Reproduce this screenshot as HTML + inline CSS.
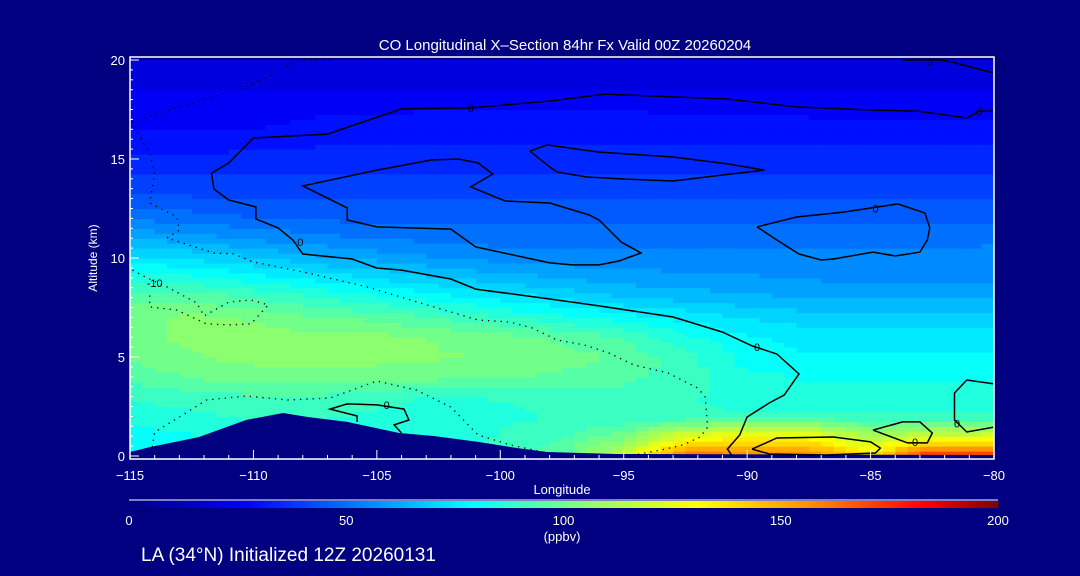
<!DOCTYPE html>
<html><head><meta charset="utf-8"><style>
html,body{margin:0;padding:0;background:#000080;}
svg{display:block;font-family:"Liberation Sans",sans-serif;}
text{fill:#fff;}
</style></head><body>
<svg id="chart" width="1080" height="576" viewBox="0 0 1080 576" xmlns="http://www.w3.org/2000/svg">
<rect x="0" y="0" width="1080" height="576" fill="#000080"/>
<text x="565" y="50" font-size="15" text-anchor="middle">CO Longitudinal X–Section 84hr  Fx Valid 00Z 20260204</text>
<g id="field"></g>
<g id="terrain"></g>
<g id="contours"></g>
<g id="axes"></g>
<text x="97" y="258" font-size="12" text-anchor="middle" transform="rotate(-90 97 258)">Altitude (km)</text>
<text x="562" y="494" font-size="13" text-anchor="middle">Longitude</text>
<g id="colorbar"></g>
<text x="562" y="541" font-size="13" text-anchor="middle">(ppbv)</text>
<text x="141" y="561" font-size="19">LA (34°N) Initialized 12Z 20260131</text>
</svg>
<script>
const lonLevels = [-115,-112.5,-110,-107.5,-105,-102.5,-100,-97.5,-95,-92.5,-90,-87.5,-85,-82.5,-80];
const altLevels = [0,1,2,3,4,5,6,7,8,9,10,11,12,13,14,15,16,17,18,19,20];
const coValues = [
[80,84,88,90,88,86,90,96,120,165,160,160,140,180,175],
[80,82,86,88,86,84,88,92,100,125,130,130,110,120,122],
[84,86,88,88,86,84,86,88,88,88,88,88,88,88,88],
[88,90,92,92,90,86,88,90,90,88,86,84,84,84,84],
[94,98,100,100,100,99,98,96,94,90,84,82,82,82,82],
[98,102,104,104,104,103,102,100,96,90,80,78,78,78,78],
[100,104,104,104,104,102,100,96,92,84,78,76,75,75,75],
[100,104,102,98,96,92,88,84,80,76,72,70,70,70,70],
[96,96,92,88,84,80,76,72,68,66,64,62,62,62,62],
[86,84,80,76,72,68,65,62,60,58,58,57,56,55,56],
[74,72,68,64,61,58,56,55,55,55,55,55,55,55,57],
[62,60,57,54,52,51,50,50,50,50,50,50,50,50,50],
[52,50,48,47,46,46,46,46,46,46,46,46,46,46,46],
[44,43,42,42,42,42,42,42,42,42,42,42,42,42,42],
[39,39,38,38,38,38,38,38,38,38,38,38,38,38,38],
[34,34,35,35,35,35,35,35,35,35,35,35,35,35,35],
[30,29,29,31,32,32,32,32,32,32,32,32,31,31,31],
[26,26,26,28,29,30,30,30,30,29,28,28,27,27,27],
[24,24,24,24,24,24,24,24,24,24,24,24,24,24,24],
[20,20,20,20,20,20,20,20,20,20,20,20,20,20,20],
[18,18,18,18,18,18,18,18,18,18,18,18,18,18,18]];
const terrainLon = [-115,-114.2,-112.2,-110.3,-108.8,-107.8,-106.2,-104.1,-102.7,-100.9,-99.3,-98.1,-95.3,-80];
const terrainAlt = [0.2,0.45,0.96,1.82,2.17,1.97,1.72,1.16,1.01,0.71,0.40,0.20,0.10,0.05];
const solidContours = [
 [[-80,17.42],[-80.6,17.42],[-81.1,17.07],[-83.1,17.42],[-84.9,17.47],[-88,17.63],[-90.8,18.03],[-95.8,18.28],[-98,17.93],[-101.2,17.58],[-104,17.53],[-107,16.26],[-110,16.06],[-111,14.8],[-111.7,14.29],[-111.6,13.48],[-111,12.93],[-109.9,12.58],[-109.9,11.97],[-109,11.52],[-108.4,10.91],[-108,10.2],[-106,9.95],[-105,9.49],[-104,9.39],[-102,8.94],[-101,8.43],[-98,7.93],[-96,7.58],[-93,7.02],[-91,6.26],[-89.8,5.56],[-88.8,5.15],[-87.9,4.14],[-88.5,3.08],[-89.1,2.68],[-90,1.97],[-90.3,1.06],[-90.8,0.35],[-90.6,0]],
 [[-98,12.78],[-99.8,12.88],[-101.2,13.59],[-100.3,14.24],[-100.9,14.8],[-101.7,15],[-102.8,14.95],[-105,14.44],[-108,13.64],[-106.2,12.53],[-106.2,11.92],[-105,11.57],[-102,11.46],[-101,10.56],[-99.1,10.05],[-98,9.75],[-97.1,9.65],[-96,9.65],[-95.2,9.85],[-94.3,10.25],[-95.1,10.81],[-96,11.92],[-96.4,12.17],[-98,12.78]],
 [[-98.8,15.4],[-98.1,15.71],[-96,15.35],[-93,15.1],[-90.8,14.75],[-89.3,14.44],[-91,14.19],[-93,13.89],[-95,13.99],[-96.5,14.09],[-97.7,14.34],[-98,14.6],[-98.8,15.4]],
 [[-89.6,11.57],[-88,12.07],[-86.1,12.32],[-83.9,12.73],[-82.8,12.27],[-82.6,11.52],[-82.7,10.91],[-83,10.3],[-84,10.1],[-84.9,10.3],[-86.5,9.95],[-87,9.9],[-87.9,10.2],[-88.8,10.91],[-89.6,11.57]],
 [[-89.8,0.35],[-88.8,0.91],[-86.5,0.96],[-85,0.71],[-84.6,0.4],[-84.8,0.15],[-86.8,0.05],[-89.1,0.1],[-89.8,0.35]],
 [[-84.9,1.31],[-83.7,1.72],[-83,1.72],[-82.5,1.16],[-82.7,0.66],[-83.5,0.66],[-84.9,1.31]],
 [[-80,3.64],[-81.1,3.84],[-81.6,3.18],[-81.6,1.82],[-81.1,1.21],[-80,1.46]],
 [[-105.8,1.72],[-105.8,2.02],[-106.9,2.37],[-106.2,2.63],[-105,2.58],[-103.9,2.37],[-103.7,1.82],[-104.3,1.57],[-104,1.16]],
 [[-83.7,20],[-82.2,20],[-81.7,19.9],[-80,19.34]]];
const dottedContours = [
 [[-106.9,20],[-108.1,20],[-110.3,18.64],[-113,17.63],[-114.9,16.87],[-114.6,16.11],[-114.2,15.3],[-114,14.29],[-114.2,12.78],[-113.1,12.07],[-113,11.41],[-113.5,11.01],[-111.6,10.25],[-110.8,10.2],[-110,9.8],[-107.8,9.24],[-105.4,8.54],[-102.7,7.53],[-100.9,6.87],[-99.6,6.77],[-98.7,6.46],[-97.7,5.86],[-96.6,5.61],[-95.6,5.2],[-94.6,4.6],[-93.2,4.19],[-92,3.43],[-91.7,2.98],[-91.6,1.46],[-91.9,0.96],[-92.6,0.56],[-93.5,0.3],[-94.6,0.05]],
 [[-114.9,9.39],[-114.3,8.99],[-113.5,8.54],[-112.3,7.73],[-112,7.07],[-111,7.78],[-110.1,7.88],[-109.4,7.63],[-110.1,6.67],[-111,6.62],[-111.9,6.67],[-113.1,7.37],[-114.2,7.53],[-114.2,8.23]],
 [[-114.1,0.45],[-114,1.21],[-113,1.97],[-111.9,2.83],[-110.3,3.03],[-108.6,2.83],[-106.9,2.93],[-105,3.79],[-103.4,3.33],[-102,2.47],[-100.9,1.06],[-99.6,0.56],[-98.1,0.15]]];
const contourLabelText = ["0","0","0","0","0","0","0","0","0","-10"];
const contourLabelLon = [-101.2,-108.1,-89.6,-84.8,-80.6,-82.6,-83.2,-81.5,-104.6,-114];
const contourLabelAlt = [17.58,10.8,5.5,12.5,17.42,19.9,0.7,1.65,2.58,8.75];
const xTicks = [-115,-110,-105,-100,-95,-90,-85,-80];
const yTicks = [0,5,10,15,20];
const cbTicks = [0,50,100,150,200];

const PL=130, PR=994, PT=57, PB=459;
const X = lon => PL + (lon + 115) / 35 * (PR - PL);
const Y = alt => 456 - alt * 19.8;
const NS = "http://www.w3.org/2000/svg";
function mk(tag, parent){ const e=document.createElementNS(NS,tag); parent.appendChild(e); return e; }

const cmStops=[[0,0,0,128],[27,0,0,255],[53,0,128,255],[79,0,255,255],[105,140,255,110],[131,255,255,0],[157,255,140,0],[183,255,0,0],[200,128,0,0]];
function cmap(v){
  v=Math.max(0,Math.min(200,v));
  for(let i=0;i<cmStops.length-1;i++){const a=cmStops[i],b=cmStops[i+1];
    if(v<=b[0]){const t=(v-a[0])/(b[0]-a[0]);
      return `rgb(${Math.round(a[1]+t*(b[1]-a[1]))},${Math.round(a[2]+t*(b[2]-a[2]))},${Math.round(a[3]+t*(b[3]-a[3]))})`;}}
  return "rgb(128,0,0)";
}
function sample(lon,alt){
  let i=0; while(i<lonLevels.length-2 && lon>lonLevels[i+1]) i++;
  let j=0; while(j<altLevels.length-2 && alt>altLevels[j+1]) j++;
  const tx=Math.max(0,Math.min(1,(lon-lonLevels[i])/(lonLevels[i+1]-lonLevels[i])));
  const ty=Math.max(0,Math.min(1,(alt-altLevels[j])/(altLevels[j+1]-altLevels[j])));
  const a=coValues[j][i],b=coValues[j][i+1],c=coValues[j+1][i],d=coValues[j+1][i+1];
  return (a*(1-tx)+b*tx)*(1-ty)+(c*(1-tx)+d*tx)*ty;
}
const field=document.getElementById('field');
const dLon=0.5,dAlt=0.25;
for(let lon=-115;lon<-80-1e-9;lon+=dLon){
  for(let alt=-0.25;alt<20-1e-9;alt+=dAlt){
    const v=Math.round(sample(lon+dLon/2,Math.max(0,alt+dAlt/2))/5)*5;
    const r=mk('rect',field);
    
    
    const x0=X(lon),x1=X(lon+dLon),y0=Math.max(PT,Y(alt+dAlt)),y1=Math.min(PB,Y(alt));
    r.setAttribute('x',x0.toFixed(2));r.setAttribute('y',y0.toFixed(2));
    r.setAttribute('width',(x1-x0+0.6).toFixed(2));r.setAttribute('height',(y1-y0+0.6).toFixed(2));
    r.setAttribute('fill',cmap(v));
  }
}
const ter=mk('polygon',document.getElementById('terrain'));


let tp=terrainLon.map((l,k)=>X(l).toFixed(1)+','+Y(terrainAlt[k]).toFixed(1));
tp.push(X(-80)+','+PB, X(-115)+','+PB);
ter.setAttribute('points',tp.join(' '));
ter.setAttribute('fill','#000080');
const cg=document.getElementById('contours');
solidContours.forEach(c=>{const p=mk('polyline',cg);
  
  
  p.setAttribute('points',c.map(q=>X(q[0]).toFixed(1)+','+Y(q[1]).toFixed(1)).join(' '));
  p.setAttribute('fill','none');p.setAttribute('stroke','#000');p.setAttribute('stroke-width','1.5');});
dottedContours.forEach(c=>{const p=mk('polyline',cg);
  
  
  p.setAttribute('points',c.map(q=>X(q[0]).toFixed(1)+','+Y(q[1]).toFixed(1)).join(' '));
  p.setAttribute('fill','none');p.setAttribute('stroke','#000');p.setAttribute('stroke-width','1.3');p.setAttribute('stroke-dasharray','1.3 5');});
contourLabelText.forEach((t,k)=>{const e=mk('text',cg);
  
  
  e.setAttribute('x',X(contourLabelLon[k]).toFixed(1));e.setAttribute('y',(Y(contourLabelAlt[k])+4).toFixed(1));
  e.setAttribute('font-size','11');e.setAttribute('text-anchor','middle');e.setAttribute('style','fill:#000');
  e.textContent=t;});
const ax=document.getElementById('axes');
const frame=mk('rect',ax);


frame.setAttribute('x',PL);frame.setAttribute('y',PT);frame.setAttribute('width',PR-PL);frame.setAttribute('height',PB-PT);
frame.setAttribute('fill','none');frame.setAttribute('stroke','#fff');frame.setAttribute('stroke-width','1.5');
for(let lon=-115;lon<=-80;lon++){const major=(lon%5===0);const l=mk('line',ax);
  
  
  l.setAttribute('x1',X(lon));l.setAttribute('x2',X(lon));l.setAttribute('y1',PB);l.setAttribute('y2',PB-(major?9:4));
  l.setAttribute('stroke','#fff');}
for(let a=0;a<=20;a+=0.5){const major=(a%5===0);const l=mk('line',ax);
  
  
  l.setAttribute('x1',PL);l.setAttribute('x2',PL+(major?9:3));l.setAttribute('y1',Y(a));l.setAttribute('y2',Y(a));
  l.setAttribute('stroke','#fff');}
xTicks.forEach(v=>{const t=mk('text',ax);
  
  
  t.setAttribute('x',X(v));t.setAttribute('y',480);t.setAttribute('font-size','13');t.setAttribute('text-anchor','middle');
  t.textContent=v<0?'−'+Math.abs(v):v;});
yTicks.forEach(v=>{const t=mk('text',ax);
  
  
  t.setAttribute('x',125);t.setAttribute('y',Y(v)+5);t.setAttribute('font-size','13');t.setAttribute('text-anchor','end');
  t.textContent=v;});
const cb=document.getElementById('colorbar');
const CBL=129,CBR=998;
const CX=v=>CBL+v/200*(CBR-CBL);
for(let v=0;v<200;v+=1){const r=mk('rect',cb);
  
  
  r.setAttribute('x',CX(v).toFixed(2));r.setAttribute('y',501);r.setAttribute('width',(CX(1)-CX(0)+0.5).toFixed(2));r.setAttribute('height',7);
  r.setAttribute('fill',cmap(v+0.5));}
const cbl=mk('line',cb);


cbl.setAttribute('x1',CBL);cbl.setAttribute('x2',CBR);cbl.setAttribute('y1',500);cbl.setAttribute('y2',500);cbl.setAttribute('stroke','#fff');
cbTicks.forEach(v=>{const t=mk('text',cb);
  
  
  t.setAttribute('x',CX(v));t.setAttribute('y',525);t.setAttribute('font-size','13');t.setAttribute('text-anchor','middle');
  t.textContent=v;});
</script>
</body></html>
